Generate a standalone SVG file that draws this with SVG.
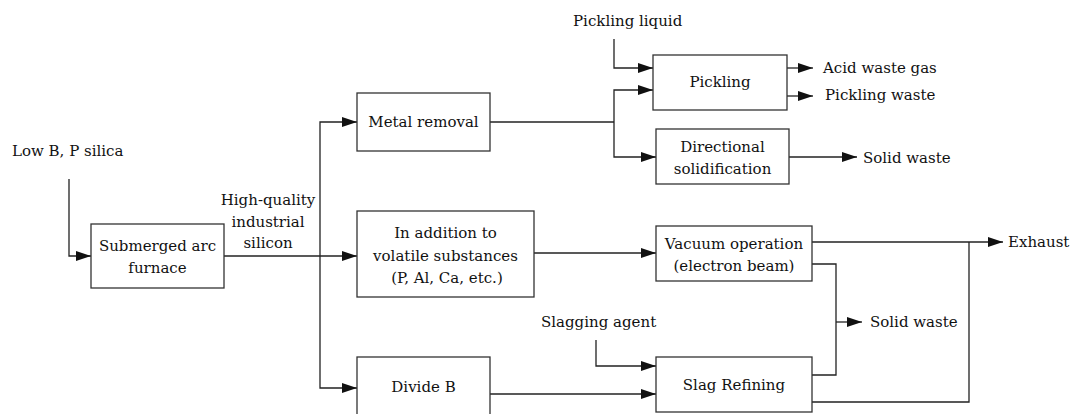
<svg xmlns="http://www.w3.org/2000/svg" width="1071" height="414" viewBox="0 0 1071 414">
<style>
.box{fill:#fff;stroke:#333;stroke-width:1.3}
.ln{fill:none;stroke:#222;stroke-width:1.3}
.ar{marker-end:url(#ah)}
text{font-family:'DejaVu Serif',serif;font-size:15px;fill:#111}
.c{text-anchor:middle}
</style>
<defs>
<marker id="ah" markerUnits="userSpaceOnUse" markerWidth="16" markerHeight="11" refX="15" refY="5" orient="auto">
<path d="M0,0 L15,5 L0,10 z" fill="#111"/>
</marker>
</defs>
<rect width="1071" height="414" fill="#fff"/>
<g id="connectors">
<path class="ln ar" d="M69,179 V256 H91"/>
<path class="ln ar" d="M224,256 H357"/>
<path class="ln ar" d="M320,256 V122 H357"/>
<path class="ln ar" d="M320,256 V388 H357"/>
<path class="ln" d="M490,122 H614"/>
<path class="ln ar" d="M614,122 V90 H653"/>
<path class="ln ar" d="M614,122 V157 H656"/>
<path class="ln ar" d="M614,39 V68 H653"/>
<path class="ln ar" d="M787,68 H813"/>
<path class="ln ar" d="M787,96 H813"/>
<path class="ln ar" d="M789,157 H857"/>
<path class="ln ar" d="M534,253 H656"/>
<path class="ln ar" d="M812,242 H1003"/>
<path class="ln" d="M812,402 H969 V242"/>
<path class="ln" d="M812,264 H836 V375 H812"/>
<path class="ln ar" d="M836,322 H862"/>
<path class="ln ar" d="M596,340 V366 H656"/>
<path class="ln ar" d="M490,394 H656"/>
</g>
<g id="labels">
<text x="12" y="156">Low B, P silica</text>
<text class="c" x="268" y="205">High-quality</text>
<text class="c" x="268" y="227">industrial</text>
<text class="c" x="268" y="248">silicon</text>
<text x="573" y="26">Pickling liquid</text>
<text x="823" y="73">Acid waste gas</text>
<text x="825" y="100">Pickling waste</text>
<text x="863" y="163">Solid waste</text>
<text x="1008" y="247">Exhaust</text>
<text x="870" y="327">Solid waste</text>
<text x="541" y="327">Slagging agent</text>
</g>
<g id="node-saf">
<rect class="box" x="91" y="224" width="133" height="64"/>
<text class="c" x="157.5" y="251">Submerged arc</text>
<text class="c" x="157.5" y="273">furnace</text>
</g>
<g id="node-metal">
<rect class="box" x="357" y="93" width="133" height="58"/>
<text class="c" x="423.5" y="127">Metal removal</text>
</g>
<g id="node-pickling">
<rect class="box" x="653" y="55" width="134" height="55"/>
<text class="c" x="720" y="87">Pickling</text>
</g>
<g id="node-directional">
<rect class="box" x="656" y="129" width="133" height="55"/>
<text class="c" x="722.5" y="152">Directional</text>
<text class="c" x="722.5" y="174">solidification</text>
</g>
<g id="node-volatile">
<rect class="box" x="357" y="211" width="177" height="86"/>
<text class="c" x="445.5" y="238">In addition to</text>
<text class="c" x="445.5" y="261">volatile substances</text>
<text class="c" x="447" y="283">(P, Al, Ca, etc.)</text>
</g>
<g id="node-vacuum">
<rect class="box" x="656" y="226" width="156" height="55"/>
<text class="c" x="734" y="249">Vacuum operation</text>
<text class="c" x="734" y="271">(electron beam)</text>
</g>
<g id="node-divideb">
<rect class="box" x="357" y="357" width="133" height="63"/>
<text class="c" x="423.5" y="392">Divide B</text>
</g>
<g id="node-slag">
<rect class="box" x="656" y="357" width="156" height="55"/>
<text class="c" x="734" y="390">Slag Refining</text>
</g>
</svg>
